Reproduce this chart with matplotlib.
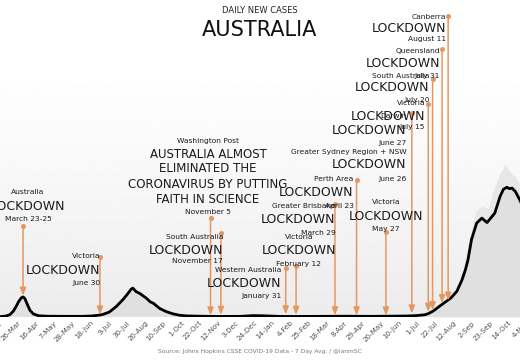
import matplotlib
matplotlib.use("Agg")
import matplotlib.pyplot as plt
import matplotlib.dates as mdates
import matplotlib.transforms as mtransforms
import numpy as np
import pandas as pd

plt.rcParams['font.family'] = ['DejaVu Sans']

# ---------------- data ----------------
avg_dates = ['2020-02-20', '2020-03-06', '2020-03-14', '2020-03-18', '2020-03-22', '2020-03-25',
             '2020-03-28', '2020-03-31', '2020-04-02', '2020-04-04', '2020-04-07', '2020-04-10',
             '2020-04-14', '2020-04-20', '2020-05-01', '2020-05-20', '2020-06-10', '2020-06-20',
             '2020-06-30', '2020-07-04', '2020-07-11', '2020-07-19', '2020-07-23', '2020-07-27',
             '2020-08-01', '2020-08-05', '2020-08-07', '2020-08-11', '2020-08-15', '2020-08-23',
             '2020-08-27', '2020-08-31', '2020-09-07', '2020-09-15', '2020-09-23', '2020-09-30',
             '2020-10-08', '2020-10-25', '2020-11-15', '2020-12-10', '2020-12-24', '2021-01-05',
             '2021-01-25', '2021-02-15', '2021-03-15', '2021-04-10', '2021-05-10', '2021-06-01',
             '2021-06-20', '2021-07-01', '2021-07-11', '2021-07-15', '2021-07-21', '2021-07-26',
             '2021-08-02', '2021-08-10', '2021-08-17', '2021-08-23', '2021-08-27', '2021-08-30',
             '2021-09-03', '2021-09-09', '2021-09-15', '2021-09-21', '2021-09-30', '2021-10-06',
             '2021-10-10', '2021-10-14', '2021-10-17', '2021-10-20', '2021-10-24', '2021-10-29',
             '2021-11-04', '2021-11-12']
avg_values = [1, 5, 20, 45, 110, 190,
              280, 345, 362, 335, 225, 120,
              55, 22, 14, 12, 12, 18,
              35, 50, 90, 190, 255, 320,
              415, 500, 520, 455, 425, 335,
              275, 245, 155, 95, 55, 32,
              20, 14, 10, 12, 25, 22,
              10, 10, 12, 14, 12, 15,
              18, 25, 40, 60, 110, 170,
              250, 340, 460, 665, 850, 1030,
              1390, 1690, 1780, 1700, 1870, 2165,
              2300, 2335, 2310, 2320, 2255, 2105,
              1900, 1550]

# upper envelope of the daily bars (delta wave)
daily_dates = ['2021-07-20', '2021-08-01', '2021-08-10', '2021-08-18', '2021-08-25', '2021-09-01',
               '2021-09-08', '2021-09-15', '2021-09-22', '2021-09-29', '2021-10-05', '2021-10-12',
               '2021-10-18', '2021-10-25', '2021-11-04', '2021-11-12']
daily_values = [140, 300, 420, 600, 950, 1450,
                1900, 2000, 1950, 2300, 2550, 2750,
                2600, 2500, 2200, 1800]

tick_dates = ['2020-03-05', '2020-03-26', '2020-04-16', '2020-05-07', '2020-05-28', '2020-06-18',
              '2020-07-09', '2020-07-30', '2020-08-20', '2020-09-10', '2020-10-01', '2020-10-22',
              '2020-11-12', '2020-12-03', '2020-12-24', '2021-01-14', '2021-02-04', '2021-02-25',
              '2021-03-18', '2021-04-08', '2021-04-29', '2021-05-20', '2021-06-10', '2021-07-01',
              '2021-07-22', '2021-08-12', '2021-09-02', '2021-09-23', '2021-10-14', '2021-11-04']
tick_labels = ['5-Mar', '26-Mar', '16-Apr', '7-May', '28-May', '18-Jun',
               '9-Jul', '30-Jul', '20-Aug', '10-Sep', '1-Oct', '22-Oct',
               '12-Nov', '3-Dec', '24-Dec', '14-Jan', '4-Feb', '25-Feb',
               '18-Mar', '8-Apr', '29-Apr', '20-May', '10-Jun', '1-Jul',
               '22-Jul', '12-Aug', '2-Sep', '23-Sep', '14-Oct', '4-Nov']

# events: arrow date, value where the arrow tip lands, and texts
event_dates = ['2020-04-02', '2020-06-30', '2020-11-05', '2020-11-17', '2021-01-31', '2021-02-12',
               '2021-03-29', '2021-04-23', '2021-05-27', '2021-06-26', '2021-07-15', '2021-07-20',
               '2021-07-31', '2021-08-07']
event_tip_values = [385, 45, 30, 40, 50, 40,
                    30, 30, 30, 65, 95, 125,
                    250, 295]
event_places = ['Australia', 'Victoria', 'Washington Post', 'South Australia', 'Western Australia',
                'Victoria', 'Greater Brisbane', 'Perth Area', 'Victoria', 'Darwin', 'Victoria',
                'South Australia', 'Queensland', 'Canberra']
event_titles = [['LOCKDOWN'], ['LOCKDOWN'],
                ['AUSTRALIA ALMOST', 'ELIMINATED THE', 'CORONAVIRUS BY PUTTING', 'FAITH IN SCIENCE'],
                ['LOCKDOWN'], ['LOCKDOWN'], ['LOCKDOWN'], ['LOCKDOWN'], ['LOCKDOWN'], ['LOCKDOWN'],
                ['LOCKDOWN'], ['LOCKDOWN'], ['LOCKDOWN'], ['LOCKDOWN'], ['LOCKDOWN']]
event_date_labels = ['March 23-25', 'June 30', 'November 5', 'November 17', 'January 31',
                     'February 12', 'March 29', 'April 23', 'May 27', 'June 27', 'July 15',
                     'July 20', 'July 31', 'August 11']

# extra text block without its own arrow
extra_place = 'Greater Sydney Region + NSW'
extra_title = 'LOCKDOWN'
extra_date = 'June 26'

# ---------------- layout (pixels in a 520x360 canvas) ----------------
W, H = 520, 360
text_x = [28, 100, 208, 223, 281.5, 299, 335.5, 353.5, 386, 406.5, 425, 429.5, 440, 446]
text_ha = ['center', 'right', 'center', 'right', 'right', 'center', 'right', 'right', 'center',
           'right', 'right', 'right', 'right', 'right']
head_y = [192, 256, 140.7, 236.7, 270, 237, 206, 179.3, 202.3, 116, 103.3, 76, 51, 16.7]
title_y = [[206], [271], [154, 169, 184.3, 199.3], [250], [283.3], [250], [219.3], [192.3], [216],
           [130], [116], [87.7], [63.3], [28.3]]
date_y = [219, 283.3, 211.7, 261, 295.7, 264, 233.3, 206, 229, 143.3, 127.3, 100, 76, 39.3]
dot_y = [226, 256.7, 218.3, 233.3, 268, 266, 204, 180, 231.7, 113, 104, 79, 49.3, 16]

ARROW = '#e5975f'
PX_PER_DAY = 0.864
REF_PX = 17.0             # pixel x of 2020-03-26
BASE_PX = 317.0           # pixel y of zero
VAL_PER_PX = 18.0

fig = plt.figure(figsize=(W / 100, H / 100), dpi=100)
fig.patch.set_facecolor('white')
ax_left, ax_right = -20, 540
ax = fig.add_axes([ax_left / W, (H - BASE_PX) / H, (ax_right - ax_left) / W, BASE_PX / H])
d0 = mdates.date2num(pd.Timestamp('2020-03-26'))
ax.set_xlim(d0 + (ax_left - REF_PX) / PX_PER_DAY, d0 + (ax_right - REF_PX) / PX_PER_DAY)
ax.set_ylim(0, BASE_PX * VAL_PER_PX)

# background gradient
ny = 400
ypx = np.linspace(0, BASE_PX, ny)
shade = 1.0 - 0.075 * np.clip((ypx - 60) / (BASE_PX - 60), 0, 1) ** 1.2
grad = np.repeat(shade[:, None], 2, axis=1)
ax.imshow(grad, extent=[0, 1, 0, 1], transform=ax.transAxes, aspect='auto', cmap='gray',
          vmin=0, vmax=1, zorder=0, interpolation='bilinear')

x_avg = mdates.date2num(pd.to_datetime(avg_dates))
x_daily = mdates.date2num(pd.to_datetime(daily_dates))
ax.fill_between(x_daily, 0, daily_values, color='#e7e7e7', lw=0, zorder=1)
ax.fill_between(x_avg, 0, avg_values, color='#e0e0e0', lw=0, zorder=1)
ax.plot(x_avg, avg_values, color='black', lw=2.0, zorder=3, solid_joinstyle='round')

for s in ax.spines.values():
    s.set_visible(False)
ax.set_yticks([])
ax.set_xticks(mdates.date2num(pd.to_datetime(tick_dates)))
ax.set_xticklabels(tick_labels, rotation=45, ha='right', fontsize=5.1, color='#505050')
ax.tick_params(axis='x', length=0, pad=2)
offset = mtransforms.ScaledTranslation(5 / 100, 0, fig.dpi_scale_trans)
for lab in ax.get_xticklabels():
    lab.set_transform(lab.get_transform() + offset)

px = mtransforms.Affine2D().scale(1 / W, -1 / H).translate(0, 1) + fig.transFigure
blend = mtransforms.blended_transform_factory(ax.transData, px)

SMALL, BIG = 5.4, 9
TXT = '#1a1a1a'
for i in range(len(event_dates)):
    xd = mdates.date2num(pd.Timestamp(event_dates[i]))
    ax.annotate('', xy=(xd, event_tip_values[i]), xycoords='data',
                xytext=(xd, dot_y[i]), textcoords=blend,
                arrowprops=dict(arrowstyle='-|>,head_length=0.45,head_width=0.18', color=ARROW,
                                lw=1.1, shrinkA=0, shrinkB=0),
                annotation_clip=False, zorder=4)
    ax.plot([xd], [dot_y[i]], 'o', ms=2.6, color=ARROW, transform=blend, clip_on=False, zorder=4)
    fig.text(text_x[i] / W, 1 - head_y[i] / H, event_places[i], fontsize=SMALL, ha=text_ha[i],
             va='center', color=TXT)
    for t, yy in zip(event_titles[i], title_y[i]):
        fig.text(text_x[i] / W, 1 - yy / H, t, fontsize=BIG if len(event_titles[i]) == 1 else 8.5,
                 ha=text_ha[i], va='center', color=TXT)
    fig.text(text_x[i] / W, 1 - date_y[i] / H, event_date_labels[i], fontsize=SMALL,
             ha=text_ha[i], va='center', color=TXT)

fig.text(406.5 / W, 1 - 152.3 / H, extra_place, fontsize=SMALL, ha='right', va='center', color=TXT)
fig.text(406.5 / W, 1 - 165 / H, extra_title, fontsize=BIG, ha='right', va='center', color=TXT)
fig.text(406.5 / W, 1 - 179.3 / H, extra_date, fontsize=SMALL, ha='right', va='center', color=TXT)

fig.text(0.5, 1 - 10.7 / H, 'DAILY NEW CASES', fontsize=6, ha='center', va='center', color='#222222')
fig.text(0.5, 1 - 29.5 / H, 'AUSTRALIA', fontsize=15, ha='center', va='center', color='#111111')
fig.text(0.5, 1 - 352 / H, 'Source: Johns Hopkins CSSE COVID-19 Data - 7 Day Avg. / @ianmSC',
         fontsize=4.3, ha='center', va='center', color='#777777')

fig.savefig('out.png', dpi=100, facecolor='white')
